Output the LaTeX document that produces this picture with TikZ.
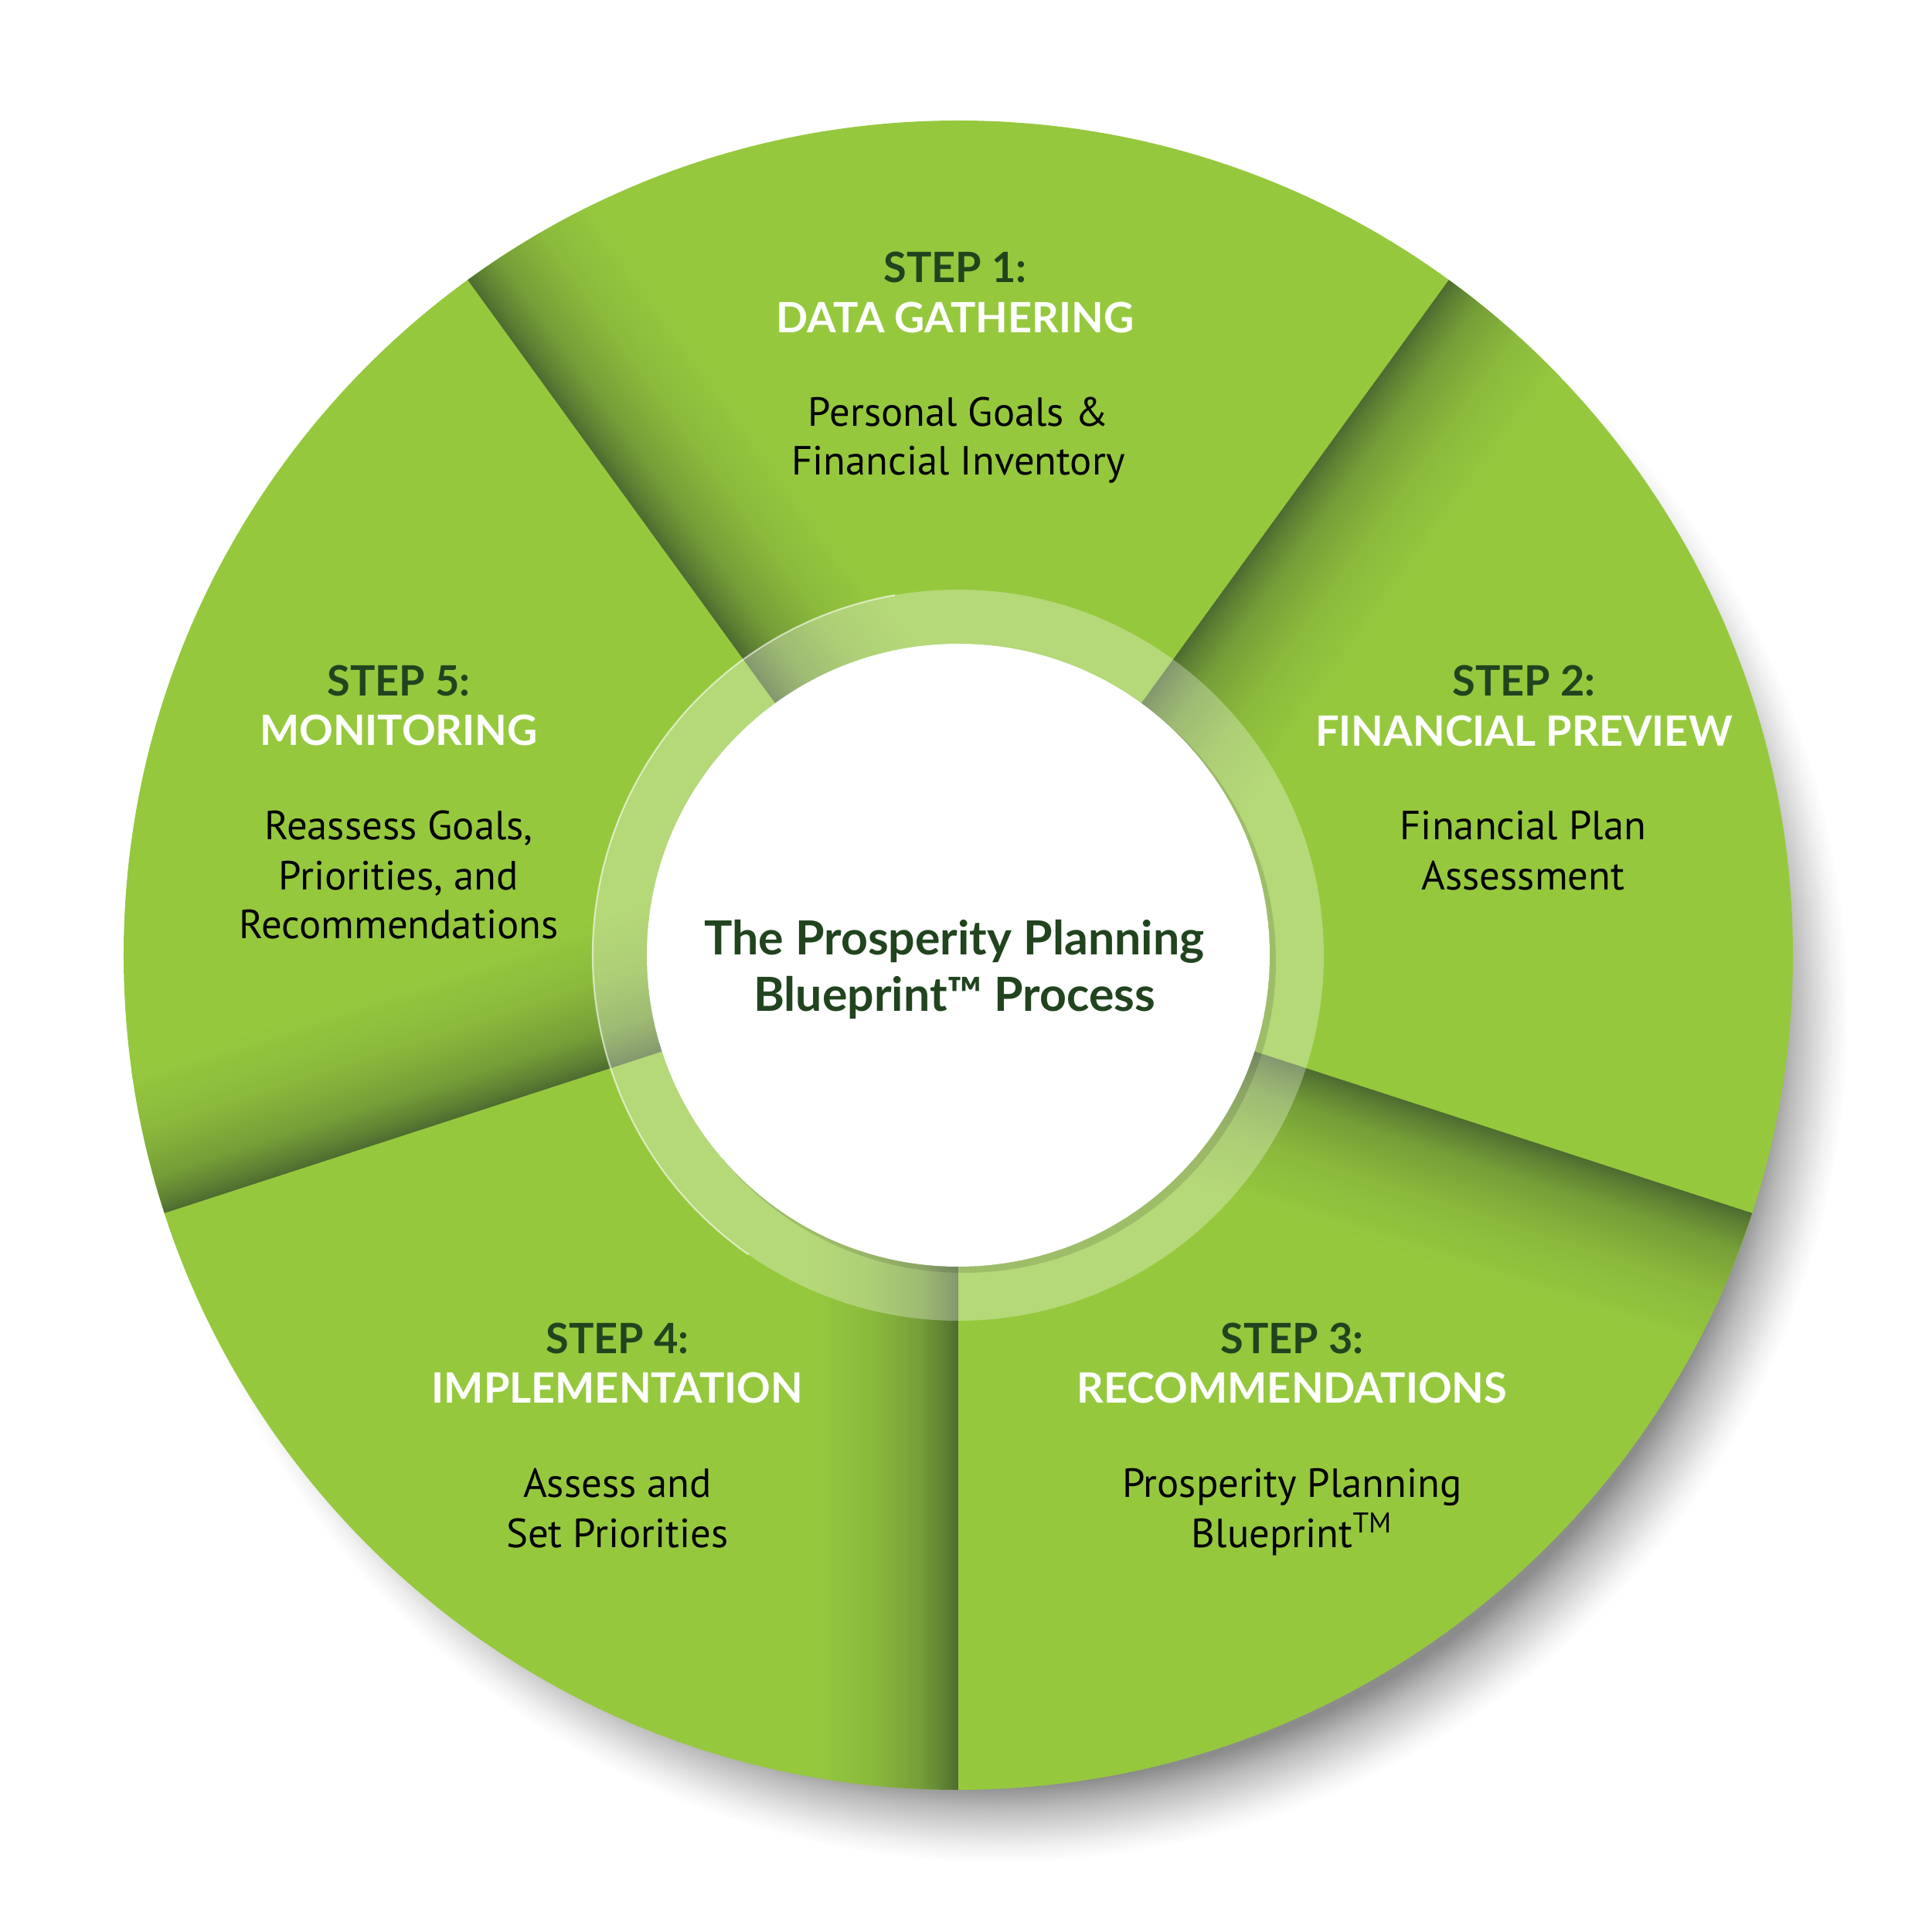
\documentclass[tikz,border=0pt]{standalone}
\usepackage{fontspec}
\setmainfont{PT Sans}
\newfontfamily\headfont{Lato}
\usepackage{tikz}
\usepackage{xcolor}
\definecolor{leafgreen}{HTML}{96C83E}
\definecolor{foldgreen}{HTML}{4D6B30}
\definecolor{pinegreen}{HTML}{21441F}
\definecolor{rimgray}{HTML}{8C8C8C}
\colorlet{foldA}{leafgreen!85!foldgreen}
\colorlet{foldB}{leafgreen!55!foldgreen}
\colorlet{foldC}{leafgreen!20!foldgreen}
\colorlet{rimA}{rimgray!60!white}
\colorlet{rimB}{rimgray!30!white}
\colorlet{rimC}{rimgray!12!white}
\pgfdeclareverticalshading{foldshade}{100bp}{color(0bp)=(leafgreen); color(25bp)=(leafgreen); color(45bp)=(foldA); color(62bp)=(foldB); color(71bp)=(foldC); color(75bp)=(foldgreen); color(100bp)=(foldgreen)}
\pgfdeclareradialshading{rimshadow}{\pgfpoint{0bp}{0bp}}{color(0bp)=(rimgray); color(22.7bp)=(rimgray); color(23.4bp)=(rimA); color(24.1bp)=(rimB); color(24.55bp)=(rimC); color(25bp)=(white); color(50bp)=(white)}

\tikzset{
  stepnum/.style={font=\headfont\bfseries\fontsize{15.4}{18}\selectfont, text=pinegreen, anchor=base, inner sep=0pt},
  steptitle/.style={font=\headfont\bfseries\fontsize{15.4}{18}\selectfont, text=white, anchor=base, inner sep=0pt},
  stepbody/.style={font=\fontsize{15}{18}\selectfont, text=black, anchor=base, inner sep=0pt},
  hubtext/.style={font=\headfont\bfseries\fontsize{17.3}{20}\selectfont, text=pinegreen, anchor=base, inner sep=0pt}
}

\begin{document}
\begin{tikzpicture}
  \useasboundingbox (-12.40,-12.64) rectangle (12.60,12.36);
  % shadow under the disc
  \shade[shading=rimshadow] (0.52,-0.74) circle (11.0);
  \fill[leafgreen] (0,0) circle (10.8);
  % folds along the ccw edge of each piece
  \foreach \a in {126,54,-18,-90,198}{
    \begin{scope}[transform canvas={rotate=\a}]
      \clip (0,0) -- (0:10.8) arc[start angle=0, end angle=-72, radius=10.8] -- cycle;
      \shade[shading=foldshade] (0,-1.9) rectangle (10.8,0);
    \end{scope}
  }
  % glass ring
  \fill[white, opacity=0.3, even odd rule] (0,0) circle (4.73) (0,0) circle (4.03);
  \draw[white, opacity=0.6, line width=0.6pt] (100:4.73) arc[start angle=100, end angle=235, radius=4.73];
  \fill[black, opacity=0.12] (0.07,-0.07) circle (4.04);
  \node[circle, fill=white, minimum size=8.06cm, inner sep=0pt] (hub) at (0,0) {};
  \node[hubtext] (hub1) at (-0.05,0.00) {The Prosperity Planning};
  \node[hubtext] (hub2) at (-0.05,-0.73) {Blueprint™ Process};
  % step 1
  \node[stepnum] (s1n) at (-0.04,8.70) {STEP 1:};
  \node[steptitle] (s1t) at (-0.04,8.05) {DATA GATHERING};
  \node[stepbody] (s1a) at (0,6.84) {Personal Goals \&};
  \node[stepbody] (s1b) at (0,6.21) {Financial Inventory};
  % step 2
  \node[stepnum] (s2n) at (7.32,3.35) {STEP 2:};
  \node[steptitle] (s2t) at (7.32,2.70) {FINANCIAL PREVIEW};
  \node[stepbody] (s2a) at (7.31,1.49) {Financial Plan};
  \node[stepbody] (s2b) at (7.31,0.84) {Assessment};
  % step 3
  \node[stepnum] (s3n) at (4.32,-5.15) {STEP 3:};
  \node[steptitle] (s3t) at (4.32,-5.79) {RECOMMENDATIONS};
  \node[stepbody] (s3a) at (4.32,-7.01) {Prosperity Planning};
  \node[stepbody] (s3b) at (4.32,-7.66) {Blueprint\textsuperscript{TM}};
  % step 4
  \node[stepnum] (s4n) at (-4.41,-5.15) {STEP 4:};
  \node[steptitle] (s4t) at (-4.41,-5.79) {IMPLEMENTATION};
  \node[stepbody] (s4a) at (-4.41,-7.01) {Assess and};
  \node[stepbody] (s4b) at (-4.41,-7.66) {Set Priorities};
  % step 5
  \node[stepnum] (s5n) at (-7.24,3.35) {STEP 5:};
  \node[steptitle] (s5t) at (-7.24,2.71) {MONITORING};
  \node[stepbody] (s5a) at (-7.24,1.49) {Reassess Goals,};
  \node[stepbody] (s5b) at (-7.24,0.84) {Priorities, and};
  \node[stepbody] (s5c) at (-7.24,0.21) {Recommendations};
\end{tikzpicture}
\end{document}
